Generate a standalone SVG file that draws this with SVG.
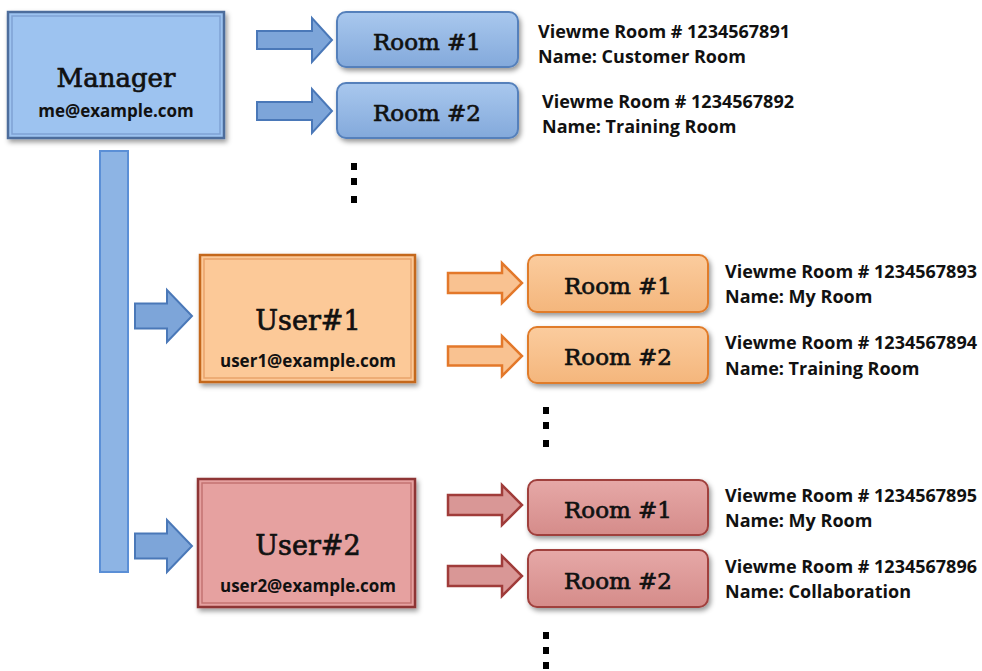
<svg xmlns="http://www.w3.org/2000/svg" width="982" height="671" viewBox="0 0 982 671">
<style>
.title{font-family:"DejaVu Serif","Liberation Serif",serif;fill:#111;stroke:#111;stroke-width:0.7;text-anchor:middle}
.mail{font-family:"Open Sans","Liberation Sans",sans-serif;font-weight:700;font-size:17px;fill:#111;text-anchor:middle}
.info{font-family:"Open Sans","Liberation Sans",sans-serif;font-weight:700;font-size:18px;fill:#111}
.dot{fill:#000}
.ab{fill:#7da5d9;stroke:#4a78b8;stroke-width:2}
.ao{fill:#f9c291;stroke:#e3782a;stroke-width:2.5}
.ar{fill:#d99796;stroke:#a03c3a;stroke-width:2.5}
</style>
<defs>
<filter id="sh" x="-10%" y="-10%" width="125%" height="130%">
<feDropShadow dx="2" dy="3" stdDeviation="2.5" flood-color="#000" flood-opacity="0.4"/>
</filter>
<linearGradient id="gb" x1="0" y1="0" x2="0" y2="1"><stop offset="0" stop-color="#a9c8ee"/><stop offset="1" stop-color="#83a9db"/></linearGradient>
<linearGradient id="go" x1="0" y1="0" x2="0" y2="1"><stop offset="0" stop-color="#fbcc9e"/><stop offset="1" stop-color="#f4b67c"/></linearGradient>
<linearGradient id="gr" x1="0" y1="0" x2="0" y2="1"><stop offset="0" stop-color="#e6a8a7"/><stop offset="1" stop-color="#d58c8a"/></linearGradient>
</defs>

<g id="connectors">
<rect x="100" y="151" width="28" height="421" fill="#8db4e4" stroke="#5b8fd6" stroke-width="2"/>
<polygon class="ab" points="257,31 312,31 312,18 332,40 312,62 312,49 257,49"/>
<polygon class="ab" points="257,102 312,102 312,89 332,111 312,133 312,120 257,120"/>
<polygon class="ab" points="135,303.5 167,303.5 167,290 192,316 167,342 167,328.5 135,328.5"/>
<polygon class="ab" points="135,533.5 167,533.5 167,520 192,546 167,572 167,558.5 135,558.5"/>
<polygon class="ao" points="448,273 502,273 502,263 522,283 502,303 502,293 448,293"/>
<polygon class="ao" points="448,346.5 502,346.5 502,336 522,356 502,376 502,365.5 448,365.5"/>
<polygon class="ar" points="448,495 502,495 502,485 522,505 502,525 502,515 448,515"/>
<polygon class="ar" points="448,566 502,566 502,556 522,576 502,596 502,586 448,586"/>
</g>

<g id="manager">
<rect x="8" y="12" width="216" height="126" fill="#9dc3f0" stroke="#4d6d9c" stroke-width="2.5" filter="url(#sh)"/>
<rect x="12" y="16" width="208" height="118" fill="none" stroke="#7fa2d4" stroke-width="1.5"/>
<text class="title" x="116" y="87" font-size="26">Manager</text>
<text class="mail" x="116" y="117">me@example.com</text>
</g>

<g id="m-room1">
<rect x="337" y="12" width="181" height="55" rx="9" fill="url(#gb)" stroke="#5580bb" stroke-width="2" filter="url(#sh)"/>
<text class="title" x="427" y="50" font-size="23">Room #1</text>
</g>
<g id="m-room2">
<rect x="337" y="83" width="181" height="55" rx="9" fill="url(#gb)" stroke="#5580bb" stroke-width="2" filter="url(#sh)"/>
<text class="title" x="427" y="121" font-size="23">Room #2</text>
</g>
<g id="m-info">
<text class="info" x="538" y="38">Viewme Room # 1234567891</text>
<text class="info" x="538" y="63">Name: Customer Room</text>
<text class="info" x="542" y="108">Viewme Room # 1234567892</text>
<text class="info" x="542" y="133">Name: Training Room</text>
</g>
<g id="m-dots">
<rect class="dot" x="351" y="163" width="6" height="7"/>
<rect class="dot" x="351" y="178" width="6" height="7"/>
<rect class="dot" x="351" y="196" width="6" height="7"/>
</g>

<g id="user1">
<rect x="200" y="255" width="215" height="127" fill="#fcc998" stroke="#c4681e" stroke-width="2.5" filter="url(#sh)"/>
<rect x="204" y="259" width="207" height="119" fill="none" stroke="#e9a36a" stroke-width="1.5"/>
<text class="title" x="308" y="330" font-size="27">User#1</text>
<text class="mail" x="308" y="367">user1@example.com</text>
</g>
<g id="u1-room1">
<rect x="528" y="255" width="180" height="57" rx="9" fill="url(#go)" stroke="#e07b2a" stroke-width="2" filter="url(#sh)"/>
<text class="title" x="618" y="294" font-size="23">Room #1</text>
</g>
<g id="u1-room2">
<rect x="528" y="327" width="180" height="56" rx="9" fill="url(#go)" stroke="#e07b2a" stroke-width="2" filter="url(#sh)"/>
<text class="title" x="618" y="365" font-size="23">Room #2</text>
</g>
<g id="u1-info">
<text class="info" x="725" y="278">Viewme Room # 1234567893</text>
<text class="info" x="725" y="303">Name: My Room</text>
<text class="info" x="725" y="349">Viewme Room # 1234567894</text>
<text class="info" x="725" y="375">Name: Training Room</text>
</g>
<g id="u1-dots">
<rect class="dot" x="543" y="407" width="6" height="7"/>
<rect class="dot" x="543" y="422" width="6" height="7"/>
<rect class="dot" x="543" y="440" width="6" height="7"/>
</g>

<g id="user2">
<rect x="198" y="479" width="217" height="128" fill="#e6a1a0" stroke="#8e3535" stroke-width="2.5" filter="url(#sh)"/>
<rect x="202" y="483" width="209" height="120" fill="none" stroke="#c47371" stroke-width="1.5"/>
<text class="title" x="308" y="555" font-size="27">User#2</text>
<text class="mail" x="308" y="592">user2@example.com</text>
</g>
<g id="u2-room1">
<rect x="528" y="480" width="180" height="55" rx="9" fill="url(#gr)" stroke="#a0403d" stroke-width="2" filter="url(#sh)"/>
<text class="title" x="618" y="518" font-size="23">Room #1</text>
</g>
<g id="u2-room2">
<rect x="528" y="550" width="180" height="57" rx="9" fill="url(#gr)" stroke="#a0403d" stroke-width="2" filter="url(#sh)"/>
<text class="title" x="618" y="589" font-size="23">Room #2</text>
</g>
<g id="u2-info">
<text class="info" x="725" y="502">Viewme Room # 1234567895</text>
<text class="info" x="725" y="527">Name: My Room</text>
<text class="info" x="725" y="573">Viewme Room # 1234567896</text>
<text class="info" x="725" y="598">Name: Collaboration</text>
</g>
<g id="u2-dots">
<rect class="dot" x="543" y="632" width="6" height="7"/>
<rect class="dot" x="543" y="647" width="6" height="7"/>
<rect class="dot" x="543" y="662" width="6" height="7"/>
</g>
</svg>
